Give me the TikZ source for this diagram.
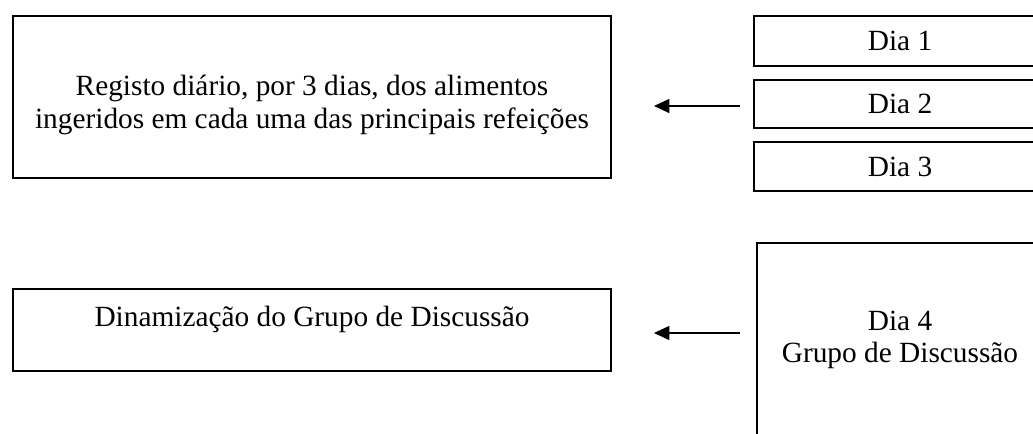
\documentclass[tikz,border=0pt]{standalone}
\usepackage{fontspec}
\setmainfont{Liberation Serif}
\usetikzlibrary{arrows.meta}

\begin{document}
\begin{tikzpicture}[x=0.75pt, y=-0.75pt]
	\tikzstyle{every node} = [font=\fontsize{22}{24.5}\selectfont, align=center, inner sep=0pt]
	\tikzstyle{box} = [draw, line width=1pt, rectangle]
	\tikzstyle{arr} = [line width=1pt, -{Triangle[length=11.5pt, width=10.5pt]}]
	\clip (0,0) rectangle (1033,434);
	\node[box, minimum width=448.5pt, minimum height=121.5pt] (registo) at (312, 97) {};
	\node (registotxt) at (312, 105) {Registo diário, por 3 dias, dos alimentos\\ingeridos em cada uma das principais refeições};
	\node[box, minimum width=448.5pt, minimum height=61.5pt] (dinam) at (312, 330) {};
	\node (dinamtxt) at (312, 319) {Dinamização do Grupo de Discussão};
	\node[box, minimum width=219pt, minimum height=37.5pt] (dia1) at (900, 41) {Dia 1};
	\node[box, minimum width=219pt, minimum height=36pt] (dia2) at (900, 104) {Dia 2};
	\node[box, minimum width=219pt, minimum height=36.75pt] (dia3) at (900, 166.5) {Dia 3};
	\node[box, minimum width=214.5pt, minimum height=145.5pt] (dia4) at (900, 340) {Dia 4\\Grupo de Discussão};
	\coordinate (a1s) at (740, 106);
	\coordinate (a1e) at (654, 106);
	\coordinate (a2s) at (740, 333);
	\coordinate (a2e) at (654, 333);
	\draw [arr] (a1s)--(a1e);
	\draw [arr] (a2s)--(a2e);
\end{tikzpicture}
\end{document}
